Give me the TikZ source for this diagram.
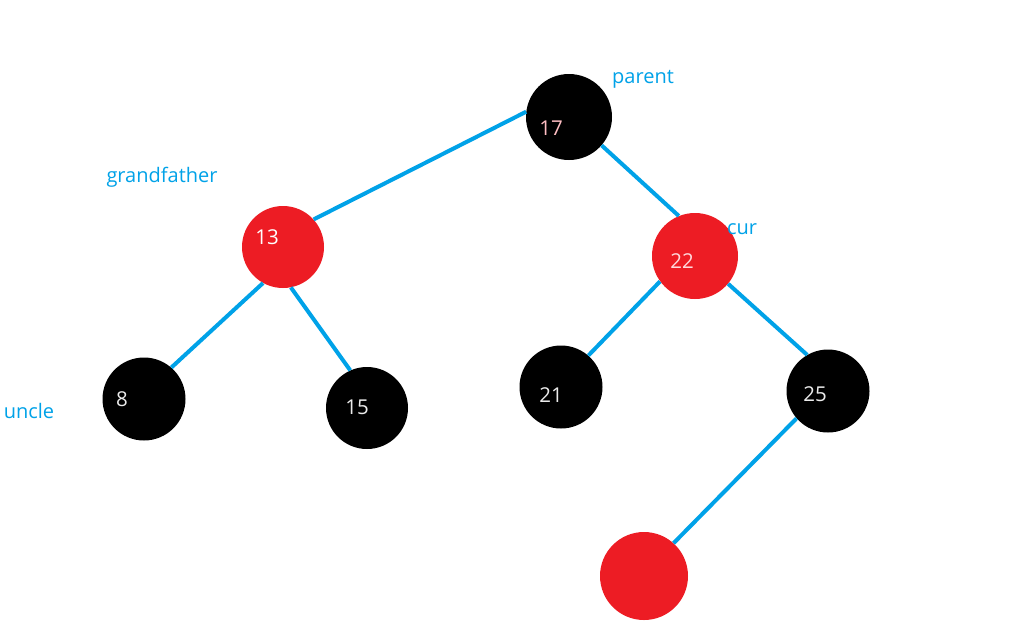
\documentclass[tikz,border=0pt]{standalone}
\usepackage{fontspec}
\setmainfont{Open Sans}
\definecolor{lineblue}{RGB}{0,162,232}
\definecolor{nodered}{RGB}{237,28,36}
\definecolor{numwhite}{RGB}{235,235,235}
\definecolor{numpink}{RGB}{255,190,195}
\begin{document}
\begin{tikzpicture}[x=1pt,y=-1pt,
  blacknode/.style={circle,fill=black,inner sep=0pt,minimum size=83pt},
  rednode/.style={circle,fill=nodered,inner sep=0pt,minimum size=83pt},
  edge/.style={draw=lineblue,line width=4pt},
  tag/.style={text=lineblue,font=\fontsize{20}{22}\selectfont,inner sep=0pt},
  num/.style={text=numwhite,font=\fontsize{20.5}{22}\selectfont,inner sep=0pt}]
\useasboundingbox (0,0) rectangle (1022,622);
\fill[white] (0,0) rectangle (1022,622);
% nodes
\node[blacknode,minimum size=86pt] (n17) at (569,117) {};
\node[rednode,minimum size=82pt] (n13) at (283,247) {};
\node[rednode,minimum size=86pt] (n22) at (695,256) {};
\node[blacknode] (n8) at (144,399) {};
\node[blacknode,minimum size=82pt] (n15) at (367,408) {};
\node[blacknode] (n21) at (561,387) {};
\node[blacknode] (n25) at (828,391) {};
\node[rednode,minimum size=88pt] (nnew) at (644,576) {};
% edges
\draw[edge] (n17.173) -- (n13.42);
\draw[edge] (n17.-41) -- (n22.112);
\draw[edge] (n13.-119) -- (n8.49);
\draw[edge] (n13.-79) -- (n15.114);
\draw[edge] (n22.-144) -- (n21.49);
\draw[edge] (n22.-40) -- (n25.120);
\draw[edge] (n25.-139) -- (nnew.48);
% numbers
\node[num,text=numpink] (t17) at (551,128) {17};
\node[num,text=white] (t13) at (267,237) {13};
\node[num,text=numpink!60!white] (t22) at (682,261) {22};
\node[num] (t8) at (122,399) {8};
\node[num] (t15) at (357,407) {15};
\node[num] (t21) at (551,395) {21};
\node[num] (t25) at (815,394) {25};
% labels
\node[tag] (lparent) at (643,79) {parent};
\node[tag] (lgrand) at (162,177) {grandfather};
\node[tag] (lcur) at (742,229) {cur};
\node[tag] (luncle) at (29,411) {uncle};
\end{tikzpicture}
\end{document}
